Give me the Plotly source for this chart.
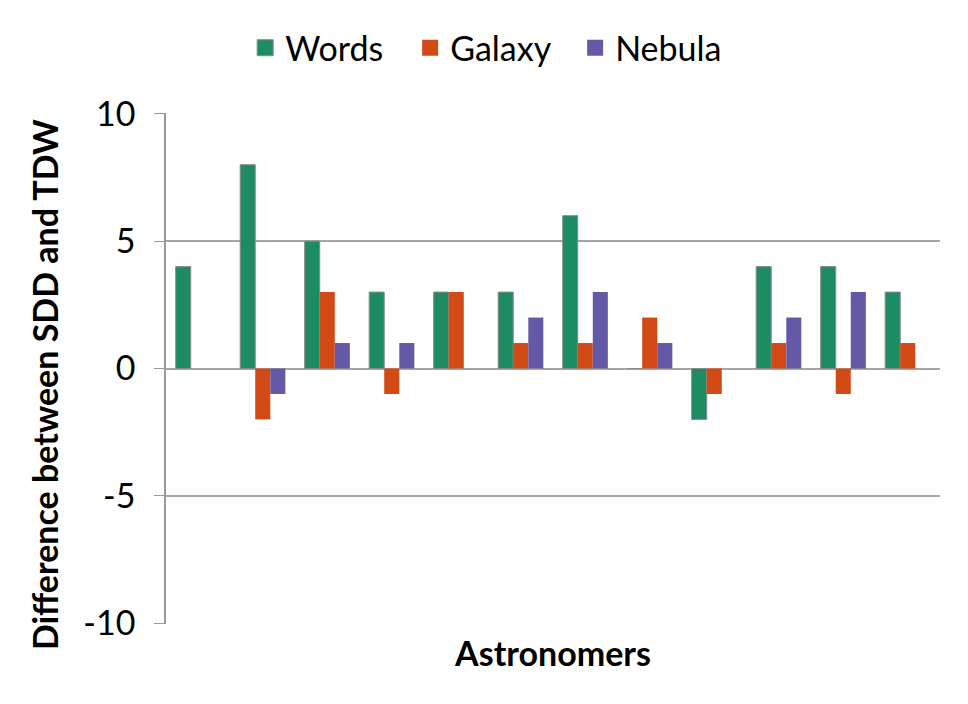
import plotly.graph_objects as go

# Astronomer groups (no labels shown on the axis)
astronomers = ["A1", "A2", "A3", "A4", "A5", "A6", "A7", "A8", "A9", "A10", "A11", "A12"]

series = ["Words", "Galaxy", "Nebula"]
words = [4, 8, 5, 3, 3, 3, 6, 0, -2, 4, 4, 3]
galaxy = [0, -2, 3, -1, 3, 1, 1, 2, -1, 1, -1, 1]
nebula = [0, -1, 1, 1, 0, 2, 3, 1, 0, 2, 3, 0]

y_ticks = [-10, -5, 0, 5, 10]
y_tick_text = ["-10", "-5", "0", "5", "10"]

colors = ["#1e8c62", "#d24a16", "#6459a6"]
outline_widths = [1, 0, 0]
font_family = "Lato, Open Sans, sans-serif"

fig = go.Figure()

for name, vals, col, lw in zip(series, [words, galaxy, nebula], colors, outline_widths):
    fig.add_trace(go.Bar(
        x=astronomers, y=vals, name=name, showlegend=False,
        marker=dict(color=col, line=dict(color="#8a8a8a", width=lw))
    ))

# bigger square swatches for the legend
for name, col, lw in zip(series, colors, outline_widths):
    fig.add_trace(go.Scatter(
        x=[None], y=[None], name=name, mode="markers",
        marker=dict(symbol="square", size=20, color=col, line=dict(color="#8a8a8a", width=lw))
    ))

fig.update_layout(
    width=968,
    height=704,
    barmode="group",
    bargap=0.3,
    bargroupgap=0,
    plot_bgcolor="white",
    paper_bgcolor="white",
    font=dict(family=font_family, size=34, color="black"),
    margin=dict(l=158, r=36, t=105, b=88, autoexpand=False),
    legend=dict(
        orientation="h",
        xref="container", yref="container",
        x=0.245, xanchor="left",
        y=0.943, yanchor="middle",
        font=dict(size=34),
        itemsizing="trace",
        entrywidth=120,
    ),
    xaxis=dict(
        showticklabels=False,
        ticks="",
        showgrid=False,
        showline=False,
        automargin=False,
        title=dict(text="<b>Astronomers</b>", font=dict(size=34), standoff=18),
    ),
    yaxis=dict(
        range=[-10.03, 10.03],
        tickvals=y_ticks,
        ticktext=y_tick_text,
        ticks="outside",
        ticklen=10,
        tickcolor="#999999",
        ticklabelstandoff=12,
        showline=True,
        linecolor="#999999",
        linewidth=1.5,
        gridcolor="#a6a6a6",
        gridwidth=1.5,
        zeroline=True,
        zerolinecolor="#a6a6a6",
        zerolinewidth=1.5,
        automargin=False,
    ),
    annotations=[dict(
        text="<b>Difference between SDD and TDW</b>",
        xref="paper", yref="paper",
        x=-0.156, y=0.468,
        xanchor="center", yanchor="middle",
        textangle=-90,
        showarrow=False,
        font=dict(size=34),
    )],
)

fig.write_html("out.html")
